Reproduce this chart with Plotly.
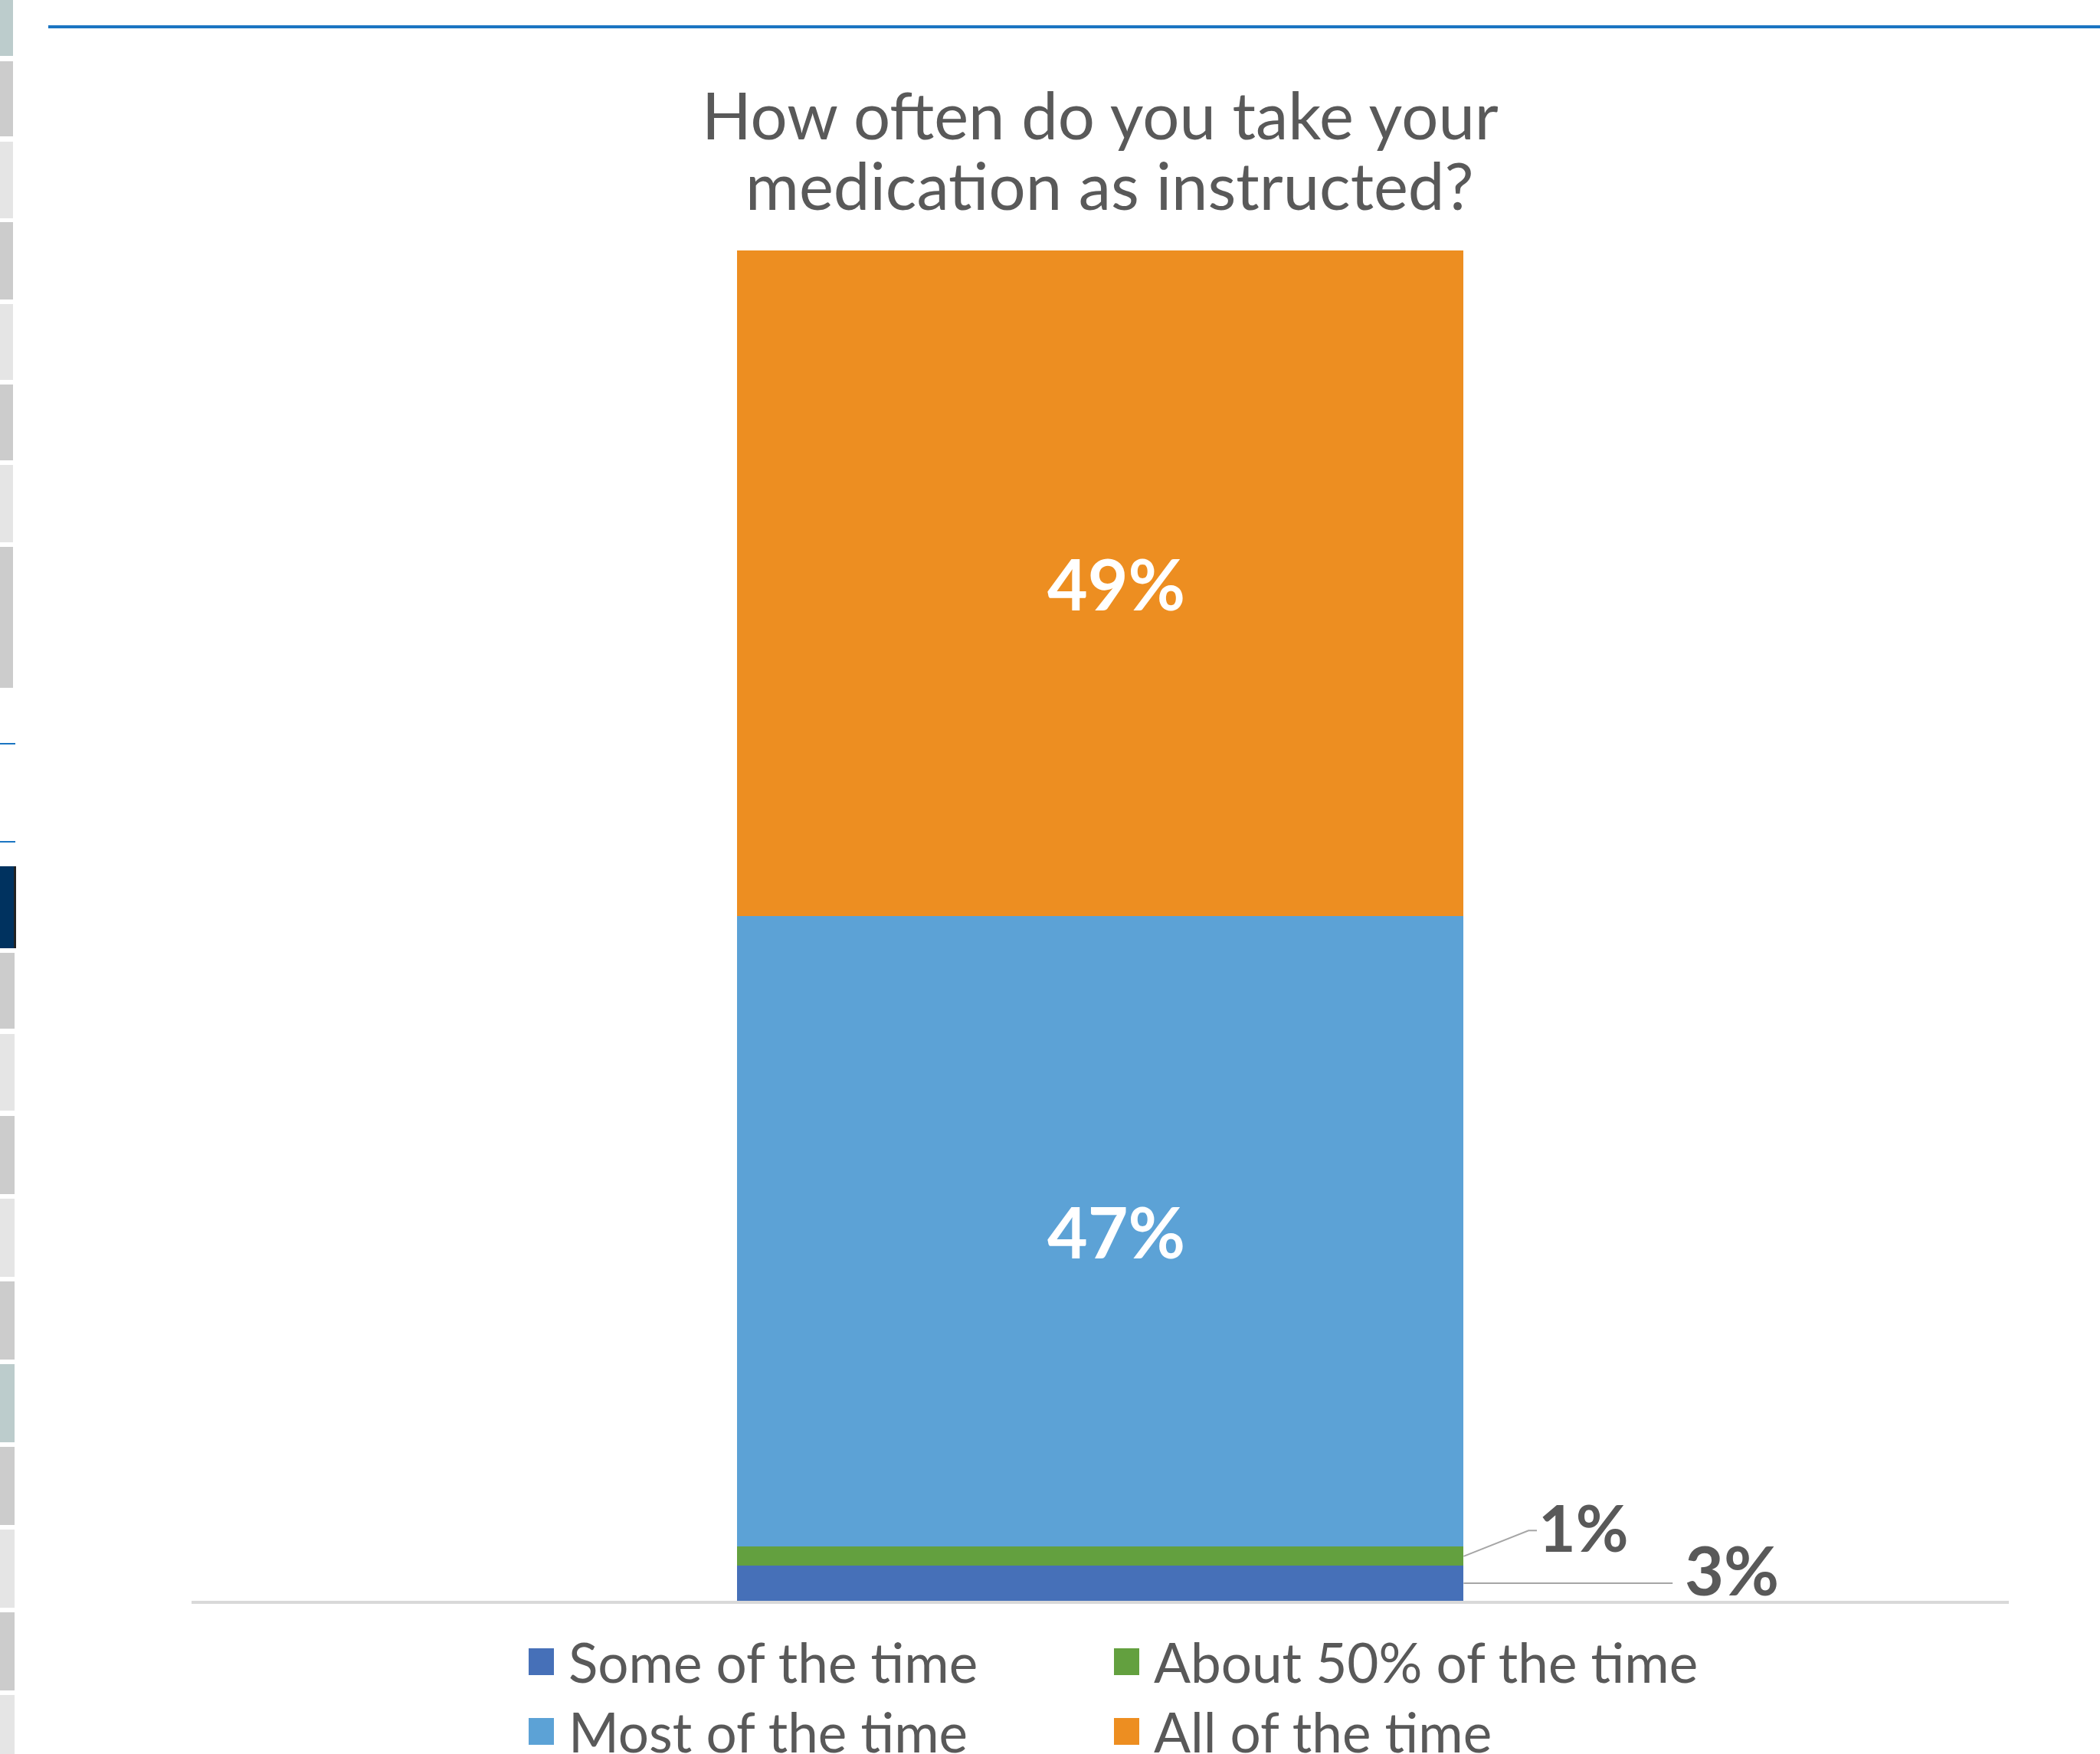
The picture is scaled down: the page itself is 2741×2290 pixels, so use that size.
import plotly.graph_objects as go

W, H = 2741, 2290

# ---------------- data ----------------
categories = ["Q"]
series_names = ["Some of the time", "About 50% of the time", "Most of the time", "All of the time"]
series_values = [2.6, 1.4, 46.7, 49.3]
value_labels = ["3%", "1%", "47%", "49%"]
colors = ["#4670B8", "#63A03F", "#5CA2D6", "#ED8E21"]
title_lines = ["How often do you take your", "medication as instructed?"]

FONT = "Lato"
GREY_TXT = "#595959"


def px(xp):
    return xp / W


def py(yp):
    return 1 - yp / H


fig = go.Figure()
for name, val, col in zip(series_names, series_values, colors):
    fig.add_trace(go.Bar(
        x=categories, y=[val], name=name, marker=dict(color=col, line=dict(width=0)),
        showlegend=False,
    ))

shapes = []
annotations = []

# inside labels for large segments (centred in their segment)
base = 0.0
for val, lab in zip(series_values, value_labels):
    if val >= 5:
        annotations.append(dict(text=lab, x=categories[0], y=base + val / 2, xref="x", yref="y",
                                xanchor="center", yanchor="middle", showarrow=False, xshift=21,
                                font=dict(family=FONT, size=91, color="white", weight="bold")))
    base += val

# title
for line, yc, xc in zip(title_lines, [149, 241], [1436, 1448]):
    annotations.append(dict(text=line, x=px(xc), y=py(yc), xref="paper", yref="paper",
                            xanchor="center", yanchor="middle", showarrow=False,
                            font=dict(family=FONT, size=85, color=GREY_TXT)))

# outside labels with leader lines
half = 0.2
v0, v1 = series_values[0], series_values[1]
# 3% leader (horizontal)
shapes.append(dict(type="line", xref="x", yref="y", x0=half, y0=v0 / 2, x1=0.315, y1=v0 / 2,
                   line=dict(color="#A6A6A6", width=2)))
annotations.append(dict(text=value_labels[0], x=0.321, y=2.3, xref="x", yref="y",
                        xanchor="left", yanchor="middle", showarrow=False,
                        font=dict(family=FONT, size=88, color=GREY_TXT, weight="bold")))
# 1% leader (elbow)
shapes.append(dict(type="path", xref="x", yref="y",
                   path=f"M {half},{v0 + v1 / 2} L 0.2357,5.2 L 0.2403,5.2",
                   line=dict(color="#A6A6A6", width=2)))
annotations.append(dict(text=value_labels[1], x=0.2405, y=5.5, xref="x", yref="y",
                        xanchor="left", yanchor="middle", showarrow=False,
                        font=dict(family=FONT, size=84, color=GREY_TXT, weight="bold")))

# manual legend (2 columns x 2 rows)
leg_col_x = [690, 1454]
leg_row_y = [2169, 2260]
for i, (name, col) in enumerate(zip(series_names, colors)):
    c, r = i % 2, i // 2
    x0 = leg_col_x[c]
    yc = leg_row_y[r]
    shapes.append(dict(type="rect", xref="paper", yref="paper",
                       x0=px(x0), x1=px(x0 + 33), y0=py(yc - 17), y1=py(yc + 18),
                       fillcolor=col, line=dict(width=0)))
    annotations.append(dict(text=name, x=px(x0 + 50), y=py(yc), xref="paper", yref="paper",
                            xanchor="left", yanchor="middle", showarrow=False,
                            font=dict(family=FONT, size=71, color=GREY_TXT)))

# decorative page elements
shapes.append(dict(type="line", xref="paper", yref="paper", x0=px(63), x1=1, y0=py(35), y1=py(35),
                   line=dict(color="#1B75C2", width=4)))
for yy in [971, 1099]:
    shapes.append(dict(type="line", xref="paper", yref="paper", x0=0, x1=px(20), y0=py(yy), y1=py(yy),
                       line=dict(color="#1B75C2", width=2)))
blocks = [(0, 73, "#BCCCCC", 17), (80, 178, "#CCCCCC", 17), (185, 285, "#E5E5E5", 17),
          (290, 391, "#CCCCCC", 17), (397, 496, "#E5E5E5", 17), (502, 601, "#CCCCCC", 17),
          (607, 708, "#E5E5E5", 17), (714, 898, "#CCCCCC", 17), (1131, 1238, "#00325F", 18),
          (1244, 1343, "#CCCCCC", 19), (1350, 1450, "#E5E5E5", 19), (1457, 1559, "#CCCCCC", 19),
          (1565, 1667, "#E5E5E5", 19), (1673, 1775, "#CCCCCC", 19), (1781, 1883, "#BCCCCC", 19),
          (1889, 1991, "#CCCCCC", 19), (1997, 2099, "#E5E5E5", 19), (2105, 2207, "#CCCCCC", 19),
          (2213, 2290, "#E5E5E5", 19)]
for y0, y1, c, w in blocks:
    shapes.append(dict(type="rect", xref="paper", yref="paper", x0=0, x1=px(w), y0=py(y1), y1=py(y0),
                       fillcolor=c, line=dict(width=0), layer="below"))
shapes.append(dict(type="rect", xref="paper", yref="paper", x0=px(18), x1=px(21), y0=py(1238), y1=py(1131),
                   fillcolor="#222222", line=dict(width=0)))

fig.update_layout(
    width=W, height=H, barmode="stack", bargap=0.6,
    margin=dict(l=0, r=0, t=0, b=0, autoexpand=False),
    paper_bgcolor="white", plot_bgcolor="white",
    xaxis=dict(domain=[px(250), px(2622)], showticklabels=False, showgrid=False, zeroline=False,
               showline=True, linecolor="#D9D9D9", linewidth=4, ticks=""),
    yaxis=dict(domain=[py(2090), py(327)], range=[0, 100], visible=False, showgrid=False),
    shapes=shapes, annotations=annotations, showlegend=False,
)

fig.write_html("out.html", config={"displayModeBar": False},
               post_script="document.body.style.margin='0';document.body.style.overflow='hidden';")
